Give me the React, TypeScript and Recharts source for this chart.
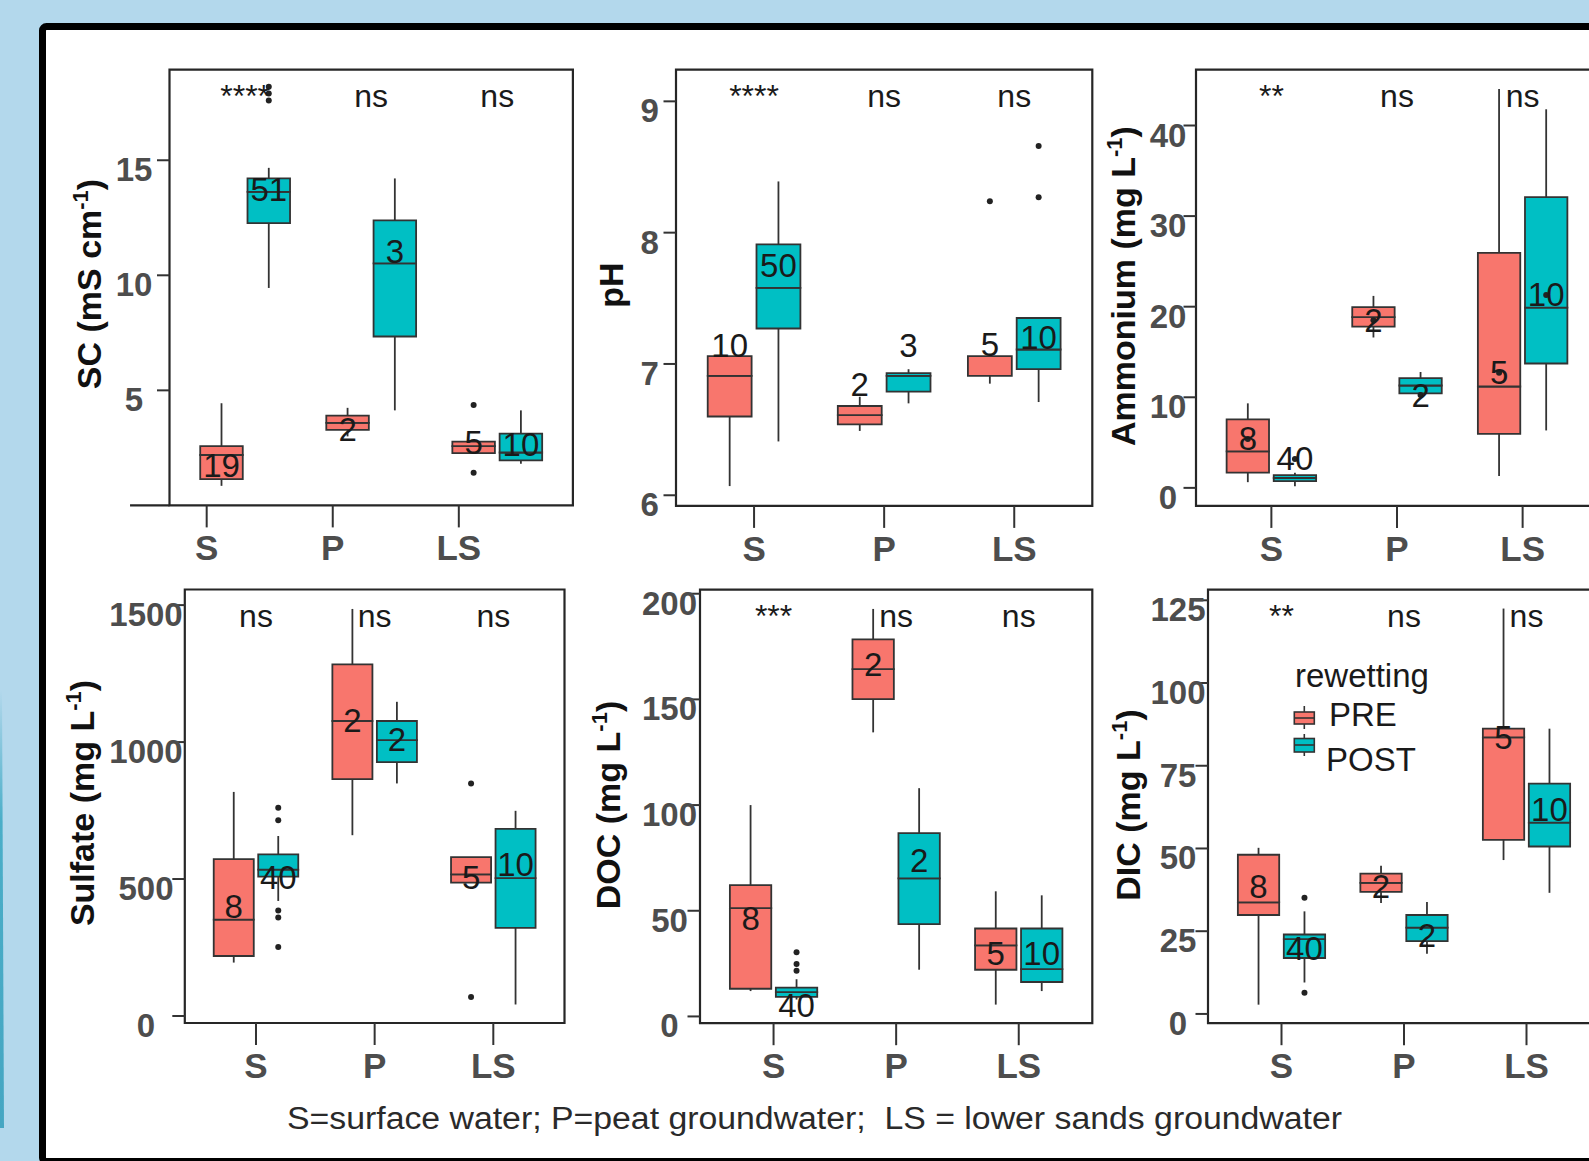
import React from 'react'
import {
  ComposedChart,
  ReferenceArea,
  ReferenceDot,
  ReferenceLine,
  Scatter,
  XAxis,
  YAxis,
} from 'recharts'

const PAGE_W = 1589
const PAGE_H = 1161
const CHART_W = 1700
const Y_AXIS_W = 80
const X_AXIS_H = 80
const Y_TICK = 12.5
const X_TICK = 22

const PRE_FILL = '#F8766D'
const POST_FILL = '#00BFC4'
const INK = '#333333'
const FRAME = '#262626'
const TICK_TEXT = '#4d4d4d'
const FONT = '"Liberation Sans", Arial, Helvetica, sans-serif'

const SITES = ['S', 'P', 'LS']
const X_DOMAIN: [number, number] = [-0.6, 2.6]
const DODGE = 0.1875
const BOX_W = 0.3375

// box stats per site S, P, LS: [min, q1, median, q3, max]

// SC (mS cm-1)
const scPre = [
  [0.85, 1.14, 2.19, 2.58, 4.44],
  [3.0, 3.28, 3.59, 3.9, 4.24],
  [2.27, 2.27, 2.58, 2.77, 2.77],
]
const scPost = [
  [9.45, 12.27, 13.63, 14.21, 14.67],
  [4.13, 7.34, 10.52, 12.39, 14.21],
  [1.81, 1.96, 2.3, 3.12, 4.13],
]
const scPreN = [19, 2, 5]
const scPostN = [51, 3, 10]
const scPreOut = [[], [], [4.36, 1.42]]
const scPostOut = [[17.6, 17.9, 18.2], [], []]
const scPreLabelAt = [1.73, 3.29, 2.73]
const scPostLabelAt = [13.75, 11.03, 2.66]
const scSig = ['****', 'ns', 'ns']
const scTicks = [5, 10, 15]

// pH
const phPre = [
  [6.07, 6.6, 6.91, 7.06, 7.06],
  [6.49, 6.54, 6.61, 6.68, 6.75],
  [6.85, 6.91, 7.06, 7.06, 7.07],
]
const phPost = [
  [6.41, 7.27, 7.58, 7.91, 8.39],
  [6.7, 6.79, 6.91, 6.93, 6.96],
  [6.71, 6.96, 7.11, 7.35, 7.35],
]
const phPreN = [10, 2, 5]
const phPostN = [50, 3, 10]
const phPreOut = [[], [], [8.24]]
const phPostOut = [[], [], [8.27, 8.66]]
const phPreLabelAt = [7.14, 6.84, 7.15]
const phPostLabelAt = [7.75, 7.14, 7.2]
const phSig = ['****', 'ns', 'ns']
const phTicks = [6, 7, 8, 9]

// Ammonium (mg L-1)
const nh4Pre = [
  [0.63, 1.68, 4.03, 7.57, 9.33],
  [16.6, 17.79, 18.84, 19.96, 21.19],
  [1.3, 5.97, 11.19, 25.93, 44.03],
]
const nh4Post = [
  [0.19, 0.74, 1.09, 1.41, 1.68],
  [10.0, 10.44, 11.3, 12.12, 12.79],
  [6.34, 13.73, 19.89, 32.09, 41.79],
]
const nh4PreN = [8, 2, 5]
const nh4PostN = [40, 2, 10]
const nh4PreOut = [[], [], []]
const nh4PostOut = [[], [], []]
const nh4PreLabelAt = [5.4, 18.5, 12.7]
const nh4PostLabelAt = [3.2, 10.25, 21.3]
const nh4Sig = ['**', 'ns', 'ns']
const nh4Ticks = [0, 10, 20, 30, 40]

// Sulfate (mg L-1)
const so4Pre = [
  [195, 219, 352, 573, 818],
  [660, 865, 1077, 1284, 1486],
  [487, 487, 517, 580, 580],
]
const so4Post = [
  [420, 509, 534, 590, 657],
  [849, 927, 1007, 1077, 1147],
  [42, 322, 503, 683, 749],
]
const so4PreN = [8, 2, 5]
const so4PostN = [40, 2, 10]
const so4PreOut = [[], [], [849, 69]]
const so4PostOut = [[760, 715, 385, 360, 252], [], []]
const so4PreLabelAt = [398, 1077, 506]
const so4PostLabelAt = [506, 1008, 552]
const so4Sig = ['ns', 'ns', 'ns']
const so4Ticks = [0, 500, 1000, 1500]

// DOC (mg L-1)
const docPre = [
  [12, 13.1, 51.2, 62.1, 100],
  [134.4, 150.1, 164.3, 178.4, 192.8],
  [5.6, 22.1, 33.6, 41.6, 59.2],
]
const docPost = [
  [8, 9.3, 11.5, 13.6, 17.6],
  [22.1, 43.7, 65.3, 86.7, 108],
  [12, 16.3, 22.4, 41.6, 57.3],
]
const docPreN = [8, 2, 5]
const docPostN = [40, 2, 10]
const docPreOut = [[], [], []]
const docPostOut = [[30.4, 24.8, 21.6], [], []]
const docPreLabelAt = [46.4, 166.4, 29.6]
const docPostLabelAt = [5.1, 73.6, 29.6]
const docSig = ['***', 'ns', 'ns']
const docTicks = [0, 50, 100, 150, 200]

// DIC (mg L-1)
const dicPre = [
  [2.8, 29.9, 33.7, 48.1, 50.2],
  [33.5, 36.9, 39.6, 42.4, 44.8],
  [46.5, 52.6, 83.6, 86.2, 122.5],
]
const dicPost = [
  [9.5, 16.9, 22.6, 24.0, 31.0],
  [18.2, 22.0, 26.1, 29.9, 33.8],
  [36.6, 50.6, 57.8, 69.6, 86.2],
]
const dicPreN = [8, 2, 5]
const dicPostN = [40, 2, 10]
const dicPreOut = [[], [], []]
const dicPostOut = [[35.1, 6.4], [], []]
const dicPreLabelAt = [38.6, 38.6, 83.6]
const dicPostLabelAt = [19.7, 23.8, 61.9]
const dicSig = ['**', 'ns', 'ns']
const dicTicks = [0, 25, 50, 75, 100, 125]

type Panel = {
  id: string
  pre: number[][]
  post: number[][]
  preN: number[]
  postN: number[]
  preOut: number[][]
  postOut: number[][]
  preAt: number[]
  postAt: number[]
  sig: string[]
  yTicks: number[]
  yDomain: [number, number]
  left: number
  right: number
  top: number
  bottom: number
  tickShift: number
  yLabelDx: number
  stub?: number
}

const panels: Panel[] = [
  {
    id: 'sc', pre: scPre, post: scPost, preN: scPreN, postN: scPostN,
    preOut: scPreOut, postOut: scPostOut, preAt: scPreLabelAt, postAt: scPostLabelAt,
    sig: scSig, yTicks: scTicks, yDomain: [0, 18.94],
    left: 169.5, right: 572.9, top: 69.6, bottom: 505.4, tickShift: -0.305, yLabelDx: -35.5, stub: 0.313,
  },
  {
    id: 'ph', pre: phPre, post: phPost, preN: phPreN, postN: phPostN,
    preOut: phPreOut, postOut: phPostOut, preAt: phPreLabelAt, postAt: phPostLabelAt,
    sig: phSig, yTicks: phTicks, yDomain: [5.919, 9.241],
    left: 676, right: 1092.3, top: 69.7, bottom: 505.9, tickShift: 0, yLabelDx: -26.3,
  },
  {
    id: 'nh4', pre: nh4Pre, post: nh4Post, preN: nh4PreN, postN: nh4PostN,
    preOut: nh4PreOut, postOut: nh4PostOut, preAt: nh4PreLabelAt, postAt: nh4PostLabelAt,
    sig: nh4Sig, yTicks: nh4Ticks, yDomain: [-1.99, 46.16],
    left: 1196, right: 1598, top: 69.7, bottom: 505.9, tickShift: 0, yLabelDx: -28,
  },
  {
    id: 'so4', pre: so4Pre, post: so4Post, preN: so4PreN, postN: so4PostN,
    preOut: so4PreOut, postOut: so4PostOut, preAt: so4PreLabelAt, postAt: so4PostLabelAt,
    sig: so4Sig, yTicks: so4Ticks, yDomain: [-25.6, 1557],
    left: 184.8, right: 564.5, top: 589.5, bottom: 1023, tickShift: 0, yLabelDx: -38.8,
  },
  {
    id: 'doc', pre: docPre, post: docPost, preN: docPreN, postN: docPostN,
    preOut: docPreOut, postOut: docPostOut, preAt: docPreLabelAt, postAt: docPostLabelAt,
    sig: docSig, yTicks: docTicks, yDomain: [-3.2, 201.9],
    left: 700, right: 1092.3, top: 589.7, bottom: 1023.2, tickShift: 0, yLabelDx: -30.5,
  },
  {
    id: 'dic', pre: dicPre, post: dicPost, preN: dicPreN, postN: dicPostN,
    preOut: dicPreOut, postOut: dicPostOut, preAt: dicPreLabelAt, postAt: dicPostLabelAt,
    sig: dicSig, yTicks: dicTicks, yDomain: [-2.8, 128.2],
    left: 1208, right: 1600, top: 589.7, bottom: 1023.2, tickShift: 0, yLabelDx: -30,
  },
]

const titles = [
  { x: 101, y: 284, main: 'SC (mS cm', sup: '-1' },
  { x: 623, y: 285, main: 'pH', sup: '' },
  { x: 1135, y: 286, main: 'Ammonium (mg L', sup: '-1' },
  { x: 94, y: 803, main: 'Sulfate (mg L', sup: '-1' },
  { x: 620, y: 805, main: 'DOC (mg L', sup: '-1' },
  { x: 1140, y: 805, main: 'DIC (mg L', sup: '-1' },
]

type BoxRow = { x: number; stats: number[]; n: number; out: number[]; at: number; fill: string }

function boxRows(p: Panel): BoxRow[] {
  const rows: BoxRow[] = []
  SITES.forEach((_, i) => {
    rows.push({ x: i - DODGE, stats: p.pre[i], n: p.preN[i], out: p.preOut[i], at: p.preAt[i], fill: PRE_FILL })
    rows.push({ x: i + DODGE, stats: p.post[i], n: p.postN[i], out: p.postOut[i], at: p.postAt[i], fill: POST_FILL })
  })
  return rows
}

function SiteTick(props: any) {
  const { x, y, index } = props
  return (
    <text x={x} y={y + 33} textAnchor="middle" fontFamily={FONT} fontWeight="bold" fontSize={35} fill={TICK_TEXT}>
      {SITES[index]}
    </text>
  )
}

function ValueTick(props: any) {
  const { x, y, payload, centerDx } = props
  return (
    <text x={x + Y_TICK + centerDx} y={y + 21} textAnchor="middle" fontFamily={FONT} fontWeight="bold" fontSize={33} fill={TICK_TEXT}>
      {payload.value}
    </text>
  )
}

const CountLabel = (props: any) => (
  <text x={props.cx} y={props.cy} textAnchor="middle" dominantBaseline="central" fontFamily={FONT} fontSize={33} fill="#1a1a1a">
    {props.payload?.n ?? props.n}
  </text>
)

const OutlierDot = (props: any) => <circle cx={props.cx} cy={props.cy} r={3} fill="#222" />

const sigShape = (text: string) => (props: any) => (
  <text x={props.cx} y={props.cy + 37} textAnchor="middle" fontFamily={FONT} fontSize={32} fill="#1a1a1a">
    {text}
  </text>
)

function BoxPanel({ p }: { p: Panel }) {
  const rows = boxRows(p)
  const labels = rows.map((r) => ({ x: r.x, y: r.at, n: r.n }))
  const outliers = rows.flatMap((r) => r.out.map((v) => ({ x: r.x, y: v })))
  const [yMin, yMax] = p.yDomain
  const marks: React.ReactElement[] = []
  rows.forEach((r, i) => {
    const [lo, q1, med, q3, hi] = r.stats
    const x1 = r.x - BOX_W / 2
    const x2 = r.x + BOX_W / 2
    marks.push(
      <ReferenceLine key={`wl${i}`} segment={[{ x: r.x, y: lo }, { x: r.x, y: q1 }]} stroke={INK} strokeWidth={1.8} ifOverflow="visible" />,
      <ReferenceLine key={`wh${i}`} segment={[{ x: r.x, y: q3 }, { x: r.x, y: hi }]} stroke={INK} strokeWidth={1.8} ifOverflow="visible" />,
      <ReferenceArea key={`bl${i}`} x1={x1} x2={x2} y1={q1} y2={med} fill={r.fill} fillOpacity={1} stroke={INK} strokeWidth={1.8} ifOverflow="visible" />,
      <ReferenceArea key={`bh${i}`} x1={x1} x2={x2} y1={med} y2={q3} fill={r.fill} fillOpacity={1} stroke={INK} strokeWidth={1.8} ifOverflow="visible" />,
    )
  })

  return (
    <div style={{ position: 'absolute', left: 0, top: 0 }}>
      <ComposedChart
        width={CHART_W}
        height={PAGE_H}
        data={labels}
        margin={{
          top: p.top,
          right: CHART_W - p.right,
          bottom: PAGE_H - p.bottom - X_AXIS_H,
          left: p.left - Y_AXIS_W,
        }}
      >
        <XAxis
          type="number"
          dataKey="x"
          domain={X_DOMAIN}
          allowDataOverflow
          ticks={[0, 1, 2].map((c) => c + p.tickShift)}
          interval={0}
          height={X_AXIS_H}
          tickSize={X_TICK}
          tickMargin={0}
          axisLine={false}
          tickLine={{ stroke: INK, strokeWidth: 2 }}
          tick={<SiteTick />}
        />
        <YAxis
          type="number"
          dataKey="y"
          domain={p.yDomain}
          allowDataOverflow
          ticks={p.yTicks}
          interval={0}
          width={Y_AXIS_W}
          tickSize={Y_TICK}
          tickMargin={0}
          axisLine={false}
          tickLine={{ stroke: INK, strokeWidth: 2 }}
          tick={<ValueTick centerDx={p.yLabelDx} />}
        />
        <ReferenceArea
          x1={X_DOMAIN[0]}
          x2={X_DOMAIN[1]}
          y1={yMin}
          y2={yMax}
          fill="none"
          stroke={FRAME}
          strokeWidth={2.2}
          ifOverflow="visible"
        />
        {p.stub ? (
          <ReferenceLine
            segment={[{ x: X_DOMAIN[0] - p.stub, y: yMin }, { x: X_DOMAIN[0], y: yMin }]}
            stroke={FRAME}
            strokeWidth={2.2}
            ifOverflow="visible"
          />
        ) : null}
        {marks}
        <Scatter data={outliers} dataKey="y" isAnimationActive={false} shape={OutlierDot} />
        <Scatter data={labels} dataKey="y" isAnimationActive={false} shape={CountLabel} />
        {p.sig.map((s, i) => (
          <ReferenceDot key={`sig${i}`} x={i} y={yMax} r={0} ifOverflow="visible" shape={sigShape(s)} />
        ))}
      </ComposedChart>
    </div>
  )
}

function Overlay() {
  return (
    <svg width={PAGE_W} height={PAGE_H} style={{ position: 'absolute', left: 0, top: 0 }}>
      {titles.map((t) => (
        <text
          key={t.main}
          x={t.x}
          y={t.y}
          transform={`rotate(-90 ${t.x} ${t.y})`}
          textAnchor="middle"
          fontFamily={FONT}
          fontWeight="bold"
          fontSize={34}
          fill="#111"
        >
          {t.main}
          {t.sup ? (
            <>
              <tspan dy={-13} fontSize={22}>
                {t.sup}
              </tspan>
              <tspan dy={13}>)</tspan>
            </>
          ) : null}
        </text>
      ))}
      <text
        x={814.5}
        y={1129}
        textAnchor="middle"
        fontFamily={FONT}
        fontSize={31}
        fill="#2a2a2a"
        textLength={1055}
        lengthAdjust="spacingAndGlyphs"
        style={{ whiteSpace: 'pre' }}
      >
        {'S=surface water; P=peat groundwater;  LS = lower sands groundwater'}
      </text>
      <g fontFamily={FONT} fill="#1a1a1a">
        <text x={1295} y={687} fontSize={33}>
          rewetting
        </text>
        <line x1={1304.3} x2={1304.3} y1={706} y2={729} stroke={INK} strokeWidth={1.6} />
        <rect x={1294.3} y={712} width={20} height={12} fill={PRE_FILL} stroke={INK} strokeWidth={1.6} />
        <line x1={1294.3} x2={1314.3} y1={718} y2={718} stroke={INK} strokeWidth={1.6} />
        <text x={1329} y={726} fontSize={33}>
          PRE
        </text>
        <line x1={1304.3} x2={1304.3} y1={734} y2={756} stroke={INK} strokeWidth={1.6} />
        <rect x={1294.3} y={738.5} width={20} height={13.5} fill={POST_FILL} stroke={INK} strokeWidth={1.6} />
        <line x1={1294.3} x2={1314.3} y1={745} y2={745} stroke={INK} strokeWidth={1.6} />
        <text x={1326} y={771} fontSize={33}>
          POST
        </text>
      </g>
    </svg>
  )
}

function Backdrop() {
  return (
    <svg width={PAGE_W} height={PAGE_H} style={{ position: 'absolute', left: 0, top: 0 }}>
      <defs>
        <linearGradient id="stripe" x1="0" y1="0" x2="0" y2="1">
          <stop offset="0" stopColor="#4aaec8" stopOpacity={0} />
          <stop offset="0.3" stopColor="#4aaec8" stopOpacity={1} />
          <stop offset="1" stopColor="#45a6c2" stopOpacity={1} />
        </linearGradient>
      </defs>
      <rect width={PAGE_W} height={PAGE_H} fill="#b3d8ec" />
      <polygon points="0,690 2,690 4,1128 0,1128" fill="url(#stripe)" />
      <rect x={42.5} y={26.5} width={1700} height={1135} rx={4} fill="#ffffff" stroke="#000000" strokeWidth={7} />
    </svg>
  )
}

export default function App() {
  return (
    <div
      style={{
        position: 'absolute',
        left: 0,
        top: 0,
        width: PAGE_W,
        height: PAGE_H,
        overflow: 'hidden',
        background: '#b3d8ec',
      }}
    >
      <Backdrop />
      {panels.map((p) => (
        <BoxPanel key={p.id} p={p} />
      ))}
      <Overlay />
    </div>
  )
}
